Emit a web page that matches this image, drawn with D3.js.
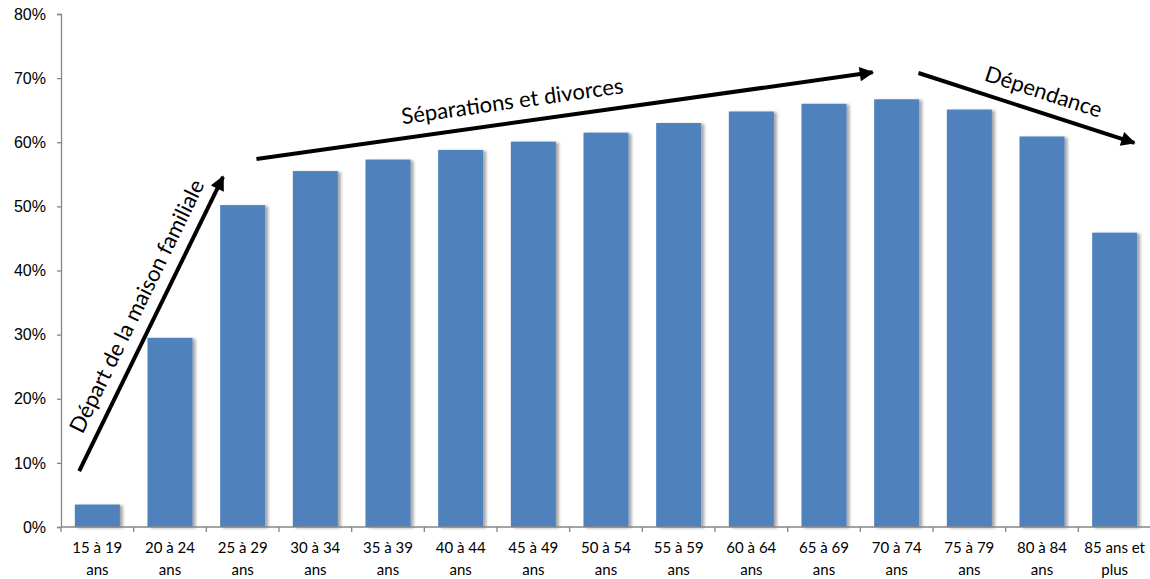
<!DOCTYPE html>
<html>
<head>
<meta charset="utf-8">
<script src="https://cdn.jsdelivr.net/npm/d3@7"></script>
<style>
  body { margin: 0; background: #fff; }
  .ytick text { font-family: "Liberation Sans", Arial, sans-serif; font-size: 16px; fill: #000; }
  .xlabel { font-family: Lato, "Open Sans", sans-serif; font-size: 15px; fill: #000; }
  .annot { font-family: Lato, "Open Sans", sans-serif; font-size: 22px; fill: #000; }
</style>
</head>
<body>
<svg id="chart" width="1150" height="579"></svg>
<script>
// age groups (two lines each) and share of people living alone / outside couple
const categories = [
  ["15 à 19", "ans"], ["20 à 24", "ans"], ["25 à 29", "ans"], ["30 à 34", "ans"],
  ["35 à 39", "ans"], ["40 à 44", "ans"], ["45 à 49", "ans"], ["50 à 54", "ans"],
  ["55 à 59", "ans"], ["60 à 64", "ans"], ["65 à 69", "ans"], ["70 à 74", "ans"],
  ["75 à 79", "ans"], ["80 à 84", "ans"], ["85 ans et", "plus"]
];
const values = [3.5, 29.5, 50.2, 55.5, 57.3, 58.8, 60.1, 61.5, 63.0, 64.8, 66.0, 66.7, 65.1, 60.9, 45.9];
const yTicks = [0, 10, 20, 30, 40, 50, 60, 70, 80];

// annotation arrows, in data space: x = category position (0..15), y = percent
const arrows = [
  {label: "Départ de la maison familiale", x1: 0.25, y1: 8.7, x2: 2.23, y2: 54.6, t: 0.53, off: 13},
  {label: "Séparations et divorces", x1: 2.69, y1: 57.4, x2: 11.17, y2: 70.9, t: 0.42, off: 14},
  {label: "Dépendance", x1: 11.80, y1: 70.8, x2: 14.77, y2: 59.9, t: 0.55, off: 13}
];

let svg = d3.select("#chart");
let margin = {left: 61, top: 14, right: -1, bottom: 52};
let width = +svg.attr("width") - margin.left - margin.right;
let height = +svg.attr("height") - margin.top - margin.bottom;

let g = svg.append("g").attr("transform", `translate(${margin.left}, ${margin.top})`);

let idx = d3.range(categories.length);
let x = d3.scaleBand().domain(idx).range([0, width]).paddingInner(0.38).paddingOuter(0.19);
let xPos = d3.scaleLinear().domain([0, categories.length]).range([0, width]);
let y = d3.scaleLinear().domain([0, 80]).range([height, 0]);

let defs = svg.append("defs");
defs.append("filter")
    .attr("id", "shadow")
    .attr("x", "-20%").attr("y", "-20%").attr("width", "150%").attr("height", "140%")
  .append("feDropShadow")
    .attr("dx", 3).attr("dy", 1)
    .attr("stdDeviation", 1.6)
    .attr("flood-color", "#000")
    .attr("flood-opacity", 0.35);
defs.append("marker")
    .attr("id", "head")
    .attr("viewBox", "0 0 10 10")
    .attr("refX", 9).attr("refY", 5)
    .attr("markerWidth", 4.2).attr("markerHeight", 3.6)
    .attr("markerUnits", "strokeWidth")
    .attr("orient", "auto")
  .append("path")
    .attr("d", "M0,0 L10,5 L0,10 Z")
    .attr("fill", "#000");

// bars
g.selectAll(".bar")
    .data(values)
    .enter()
    .append("rect")
    .attr("class", "bar")
    .attr("x", (d, i) => x(i))
    .attr("y", (d) => y(d))
    .attr("width", x.bandwidth())
    .attr("height", (d) => height - y(d))
    .attr("fill", "#4F81BD")
    .attr("filter", "url(#shadow)");

// y axis
let yAxis = g.append("g")
    .attr("class", "ytick")
    .call(d3.axisLeft(y).tickValues(yTicks).tickSize(4).tickPadding(11).tickFormat((d) => d + "%"));
yAxis.select(".domain").attr("stroke", "#868686").attr("stroke-width", 1.3);
yAxis.selectAll(".tick line").attr("stroke", "#868686").attr("stroke-width", 1.3);

// x axis line and boundary ticks
g.append("line")
    .attr("x1", 0).attr("x2", width)
    .attr("y1", height).attr("y2", height)
    .attr("stroke", "#868686").attr("stroke-width", 1.3);
g.selectAll(".xtick")
    .data(d3.range(categories.length + 1))
    .enter()
    .append("line")
    .attr("class", "xtick")
    .attr("x1", (d) => xPos(d)).attr("x2", (d) => xPos(d))
    .attr("y1", height).attr("y2", height + 5)
    .attr("stroke", "#868686").attr("stroke-width", 1.3);

// x labels, two lines
let labels = g.selectAll(".xlabel")
    .data(categories)
    .enter()
    .append("text")
    .attr("class", "xlabel")
    .attr("text-anchor", "middle")
    .attr("transform", (d, i) => `translate(${xPos(i + 0.5)}, ${height + 26})`);
labels.append("tspan").attr("x", 0).attr("y", 0).text((d) => d[0]);
labels.append("tspan").attr("x", 0).attr("y", 22).text((d) => d[1]);

// annotation arrows
for (let a of arrows) {
    let px1 = xPos(a.x1), py1 = y(a.y1), px2 = xPos(a.x2), py2 = y(a.y2);
    g.append("line")
        .attr("x1", px1).attr("y1", py1)
        .attr("x2", px2).attr("y2", py2)
        .attr("stroke", "#000")
        .attr("stroke-width", 4)
        .attr("marker-end", "url(#head)");
    let ang = Math.atan2(py2 - py1, px2 - px1) * 180 / Math.PI;
    let cx = px1 + (px2 - px1) * a.t, cy = py1 + (py2 - py1) * a.t;
    g.append("text")
        .attr("class", "annot")
        .attr("text-anchor", "middle")
        .attr("transform", `translate(${cx}, ${cy}) rotate(${ang}) translate(0, ${-a.off})`)
        .text(a.label);
}
</script>
</body>
</html>
